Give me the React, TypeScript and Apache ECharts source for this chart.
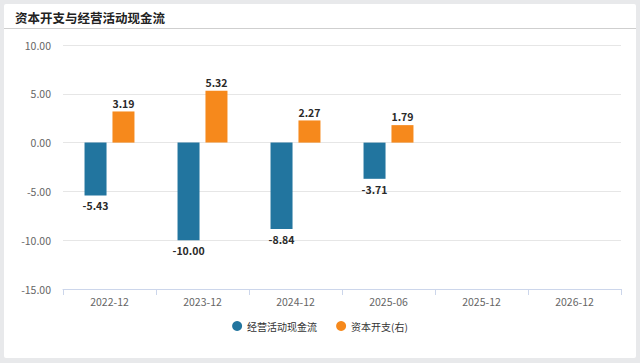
import React, { useEffect, useRef } from "react";
import * as echarts from "echarts";

const categories = ["2022-12", "2023-12", "2024-12", "2025-06", "2025-12", "2026-12"];
const cashFlow = [-5.43, -10.0, -8.84, -3.71, null, null];
const capex = [3.19, 5.32, 2.27, 1.79, null, null];
const seriesNames = ["经营活动现金流", "资本开支(右)"];
const titleText = "资本开支与经营活动现金流";

const FONT = '"Noto Sans CJK SC", "Noto Sans", sans-serif';

function toData(vals: (number | null)[]) {
  return vals.map((v) =>
    v === null
      ? null
      : {
          value: v,
          label: { position: v < 0 ? "bottom" : "top", distance: v < 0 ? 5 : 3 },
        }
  );
}

export default function App() {
  const ref = useRef<HTMLDivElement>(null);
  useEffect(() => {
    if (!ref.current) return;
    const chart = echarts.init(ref.current, null, { renderer: "svg" });
    const labelStyle = {
      show: true,
      color: "#2a2a2a",
      fontSize: 10.5,
      fontWeight: "bold" as const,
      fontFamily: FONT,
      formatter: (p: any) => Number(p.value).toFixed(2),
    };
    chart.setOption({
      animation: false,
      backgroundColor: "#e8e9eb",
      graphic: [
        {
          type: "rect",
          shape: { x: 4, y: 4, width: 632, height: 354, r: 2 },
          style: { fill: "#ffffff" },
          z: -10,
          silent: true,
        },
        {
          type: "line",
          shape: { x1: 4, y1: 28.5, x2: 636, y2: 28.5 },
          style: { stroke: "#cfcfcf", lineWidth: 1 },
          z: -9,
          silent: true,
        },
      ],
      title: {
        text: titleText,
        left: 10,
        top: 6,
        textStyle: { fontSize: 12.5, fontWeight: "bold", color: "#222", fontFamily: FONT },
      },
      legend: {
        bottom: 27,
        left: "center",
        icon: "circle",
        itemWidth: 10,
        itemHeight: 10,
        itemGap: 19,
        textStyle: { fontSize: 10, color: "#333", fontFamily: FONT },
        data: seriesNames,
      },
      grid: { left: 63, right: 19, top: 45, bottom: 74, containLabel: false },
      xAxis: {
        type: "category",
        data: categories,
        boundaryGap: true,
        axisLine: { onZero: false, lineStyle: { color: "#ccd6eb", width: 1 } },
        axisTick: { show: true, length: 6, lineStyle: { color: "#ccd6eb" } },
        axisLabel: { color: "#666", fontSize: 10.5, margin: 7, fontFamily: FONT },
      },
      yAxis: {
        type: "value",
        min: -15,
        max: 10,
        interval: 5,
        axisLine: { show: false },
        axisTick: { show: false },
        axisLabel: {
          color: "#666",
          fontSize: 10.5,
          margin: 12,
          fontFamily: FONT,
          formatter: (v: number) => v.toFixed(2),
        },
        splitLine: { lineStyle: { color: "#e6e6e6", width: 1 } },
      },
      series: [
        {
          name: seriesNames[0],
          type: "bar",
          data: toData(cashFlow),
          barWidth: 22,
          barGap: "27%",
          itemStyle: { color: "#22759f" },
          label: labelStyle,
        },
        {
          name: seriesNames[1],
          type: "bar",
          data: toData(capex),
          barWidth: 22,
          barGap: "27%",
          itemStyle: { color: "#f6891c" },
          label: labelStyle,
        },
      ],
    });
    return () => chart.dispose();
  }, []);
  return (
    <div
      ref={ref}
      style={{ position: "fixed", left: 0, top: 0, width: 640, height: 363 }}
    />
  );
}
